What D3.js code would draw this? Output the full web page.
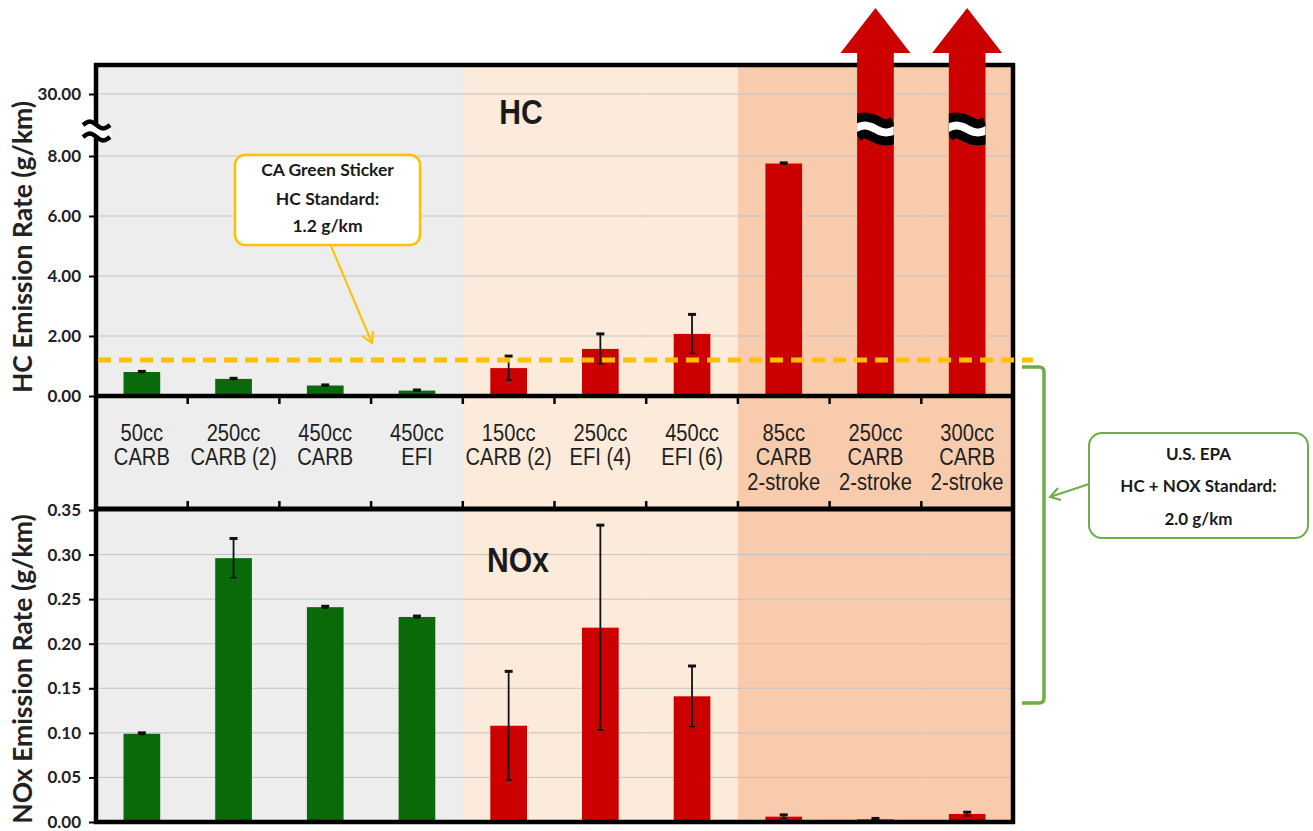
<!DOCTYPE html>
<html>
<head>
<meta charset="utf-8">
<script src="https://cdn.jsdelivr.net/npm/d3@7"></script>
<style>
body { margin: 0; background: #fff; }
svg { display: block; }
</style>
</head>
<body>
<svg id="chart" width="1313" height="831"></svg>
<script>
'use strict';

// ---- data ----
const categoryLines = [
    ["50cc", "CARB"],
    ["250cc", "CARB (2)"],
    ["450cc", "CARB"],
    ["450cc", "EFI"],
    ["150cc", "CARB (2)"],
    ["250cc", "EFI (4)"],
    ["450cc", "EFI (6)"],
    ["85cc", "CARB", "2-stroke"],
    ["250cc", "CARB", "2-stroke"],
    ["300cc", "CARB", "2-stroke"]
];
const categories = categoryLines.map(function (l) { return l.join(" "); });
const barGroup = ["pass", "pass", "pass", "pass", "fail", "fail", "fail", "fail", "fail", "fail"];
const shadeGroup = ["gray", "gray", "gray", "gray", "light", "light", "light", "dark", "dark", "dark"];

// HC (g/km); last two are off the scale
const hcValues = [0.80, 0.57, 0.35, 0.18, 0.93, 1.57, 2.07, 7.75, null, null];
const hcErrors = [0.02, 0.02, 0.02, 0.02, 0.40, 0.50, 0.65, 0.02, null, null];
const hcOffScale = [false, false, false, false, false, false, false, false, true, true];
const hcTicks = [0, 2, 4, 6, 8, 30];
const hcStandard = 1.2;

// NOx (g/km)
const noxValues = [0.099, 0.296, 0.241, 0.230, 0.108, 0.218, 0.141, 0.006, 0.003, 0.009];
const noxErrors = [0.001, 0.022, 0.001, 0.001, 0.061, 0.115, 0.034, 0.002, 0.001, 0.002];
const noxTicks = [0, 0.05, 0.10, 0.15, 0.20, 0.25, 0.30, 0.35];

const caNote = ["CA Green Sticker", "HC Standard:", "1.2 g/km"];
const epaNote = ["U.S. EPA", "HC + NOX Standard:", "2.0 g/km"];

// ---- layout ----
const LEFT = 96, RIGHT = 1013;
const HC_TOP = 65, HC_BOTTOM = 396;
const ROW_BOTTOM = 509;
const NOX_TOP = 510, NOX_BOTTOM = 822;
const NARROW = 0.84;

const COLORS = {
    gray: "#ededed", light: "#fcebdb", dark: "#f8cbad",
    pass: "#0a6a0a", fail: "#cc0000",
    grid: "#c3c3c3", gold: "#ffc000", green: "#70ad47"
};
const TICK_FONT = "Lato, 'Open Sans', sans-serif";
const NARROW_FONT = "'Liberation Sans', Arial, sans-serif";

var svg = d3.select("#chart");

var x = d3.scaleBand()
    .domain(categories)
    .range([LEFT, RIGHT])
    .paddingInner(0.6)
    .paddingOuter(0.3);
var step = x.step();

// broken axis: 0..8 linear, then jump to 30
var yHC = d3.scaleLinear()
    .domain([0, 8, 30])
    .range([HC_BOTTOM, HC_BOTTOM - 240, HC_BOTTOM - 302]);

var yNOx = d3.scaleLinear()
    .domain([0, 0.35])
    .range([NOX_BOTTOM, NOX_TOP]);

function bandLeft(c) { return x(c) - (step - x.bandwidth()) / 2; }
function mid(c) { return x(c) + x.bandwidth() / 2; }

// background shading per group
svg.append("g").selectAll("rect")
    .data(categories)
    .enter()
    .append("rect")
    .attr("x", function (d) { return bandLeft(d); })
    .attr("y", HC_TOP)
    .attr("width", step + 0.5)
    .attr("height", NOX_BOTTOM - HC_TOP)
    .attr("fill", function (d, i) { return COLORS[shadeGroup[i]]; });

// gridlines
svg.append("g").selectAll("line")
    .data(hcTicks.filter(function (t) { return t > 0; }))
    .enter()
    .append("line")
    .attr("x1", LEFT).attr("x2", RIGHT)
    .attr("y1", function (d) { return yHC(d); })
    .attr("y2", function (d) { return yHC(d); })
    .attr("stroke", COLORS.grid).attr("stroke-width", 1);

svg.append("g").selectAll("line")
    .data(noxTicks.filter(function (t) { return t > 0 && t < 0.35; }))
    .enter()
    .append("line")
    .attr("x1", LEFT).attr("x2", RIGHT)
    .attr("y1", function (d) { return yNOx(d); })
    .attr("y2", function (d) { return yNOx(d); })
    .attr("stroke", COLORS.grid).attr("stroke-width", 1);

// frame (top, left, right)
var frame = svg.append("g").attr("stroke", "#000").attr("stroke-width", 4.5).attr("fill", "none");
frame.append("line").attr("x1", LEFT - 2).attr("x2", RIGHT + 2).attr("y1", HC_TOP).attr("y2", HC_TOP);
frame.append("line").attr("x1", LEFT).attr("x2", LEFT).attr("y1", HC_TOP - 2).attr("y2", NOX_BOTTOM + 2);
frame.append("line").attr("x1", RIGHT).attr("x2", RIGHT).attr("y1", HC_TOP - 2).attr("y2", NOX_BOTTOM + 2);

// HC bars
var hcData = categories.map(function (c, i) {
    return { cat: c, value: hcValues[i], err: hcErrors[i], off: hcOffScale[i], group: barGroup[i] };
});

svg.append("g").selectAll("rect")
    .data(hcData.filter(function (d) { return !d.off; }))
    .enter()
    .append("rect")
    .attr("x", function (d) { return x(d.cat); })
    .attr("width", x.bandwidth())
    .attr("y", function (d) { return yHC(d.value); })
    .attr("height", function (d) { return yHC(0) - yHC(d.value); })
    .attr("fill", function (d) { return COLORS[d.group]; });

// off-scale bars become arrows
var arrowBase = HC_TOP - 12, arrowTip = HC_TOP - 57;
var offData = hcData.filter(function (d) { return d.off; });
var defs = svg.append("defs");
defs.selectAll("clipPath")
    .data(offData)
    .enter()
    .append("clipPath")
    .attr("id", function (d, i) { return "barclip" + i; })
    .append("rect")
    .attr("x", function (d) { return x(d.cat); })
    .attr("width", x.bandwidth())
    .attr("y", arrowBase)
    .attr("height", yHC(0) - arrowBase);

var offBars = svg.append("g").selectAll("g")
    .data(offData)
    .enter()
    .append("g");
offBars.append("rect")
    .attr("x", function (d) { return x(d.cat); })
    .attr("width", x.bandwidth())
    .attr("y", arrowBase)
    .attr("height", yHC(0) - arrowBase)
    .attr("fill", COLORS.fail);
offBars.append("path")
    .attr("d", function (d) {
        var cx = mid(d.cat);
        return "M" + (cx - 35) + "," + arrowBase + "L" + cx + "," + arrowTip + "L" + (cx + 35) + "," + arrowBase + "Z";
    })
    .attr("fill", COLORS.fail);

function wavePath(x0, x1, cy, amp) {
    var pts = d3.range(17).map(function (i) {
        return [x0 + (x1 - x0) * i / 16, cy - amp * Math.sin(2 * Math.PI * i / 16)];
    });
    return d3.line().curve(d3.curveBasis)(pts);
}

var breakY = yHC(8) - 27;
var breaks = offBars.append("g")
    .attr("clip-path", function (d, i) { return "url(#barclip" + i + ")"; });
breaks.append("path")
    .attr("d", function (d) { return wavePath(x(d.cat) - 3, x(d.cat) + x.bandwidth() + 3, breakY, 3.5); })
    .attr("stroke", "#000").attr("stroke-width", 26).attr("fill", "none");
breaks.append("path")
    .attr("d", function (d) { return wavePath(x(d.cat) - 3, x(d.cat) + x.bandwidth() + 3, breakY, 3.5); })
    .attr("stroke", "#fff").attr("stroke-width", 8).attr("fill", "none");

// NOx bars
var noxData = categories.map(function (c, i) {
    return { cat: c, value: noxValues[i], err: noxErrors[i], group: barGroup[i] };
});
svg.append("g").selectAll("rect")
    .data(noxData)
    .enter()
    .append("rect")
    .attr("x", function (d) { return x(d.cat); })
    .attr("width", x.bandwidth())
    .attr("y", function (d) { return yNOx(d.value); })
    .attr("height", function (d) { return yNOx(0) - yNOx(d.value); })
    .attr("fill", function (d) { return COLORS[d.group]; });

// error bars
function drawErrors(data, y) {
    var g = svg.append("g").selectAll("g")
        .data(data)
        .enter()
        .append("g")
        .attr("stroke", "#111");
    g.append("line")
        .attr("x1", function (d) { return mid(d.cat); })
        .attr("x2", function (d) { return mid(d.cat); })
        .attr("y1", function (d) { return y(d.value - d.err); })
        .attr("y2", function (d) { return y(d.value + d.err); })
        .attr("stroke-width", 1.8);
    g.append("line")
        .attr("x1", function (d) { return mid(d.cat) - 4; })
        .attr("x2", function (d) { return mid(d.cat) + 4; })
        .attr("y1", function (d) { return y(d.value + d.err); })
        .attr("y2", function (d) { return y(d.value + d.err); })
        .attr("stroke-width", 3);
    g.append("line")
        .attr("x1", function (d) { return mid(d.cat) - 3; })
        .attr("x2", function (d) { return mid(d.cat) + 3; })
        .attr("y1", function (d) { return y(d.value - d.err); })
        .attr("y2", function (d) { return y(d.value - d.err); })
        .attr("stroke-width", 1.5);
}
drawErrors(hcData.filter(function (d) { return !d.off; }), yHC);
drawErrors(noxData, yNOx);

// horizontal axis lines
var hz = svg.append("g").attr("stroke", "#000").attr("stroke-width", 4.5);
hz.append("line").attr("x1", LEFT - 2).attr("x2", RIGHT + 2).attr("y1", HC_BOTTOM).attr("y2", HC_BOTTOM);
hz.append("line").attr("x1", LEFT - 2).attr("x2", RIGHT + 2).attr("y1", ROW_BOTTOM).attr("y2", ROW_BOTTOM).attr("stroke-width", 5);
hz.append("line").attr("x1", LEFT - 2).attr("x2", RIGHT + 2).attr("y1", NOX_BOTTOM).attr("y2", NOX_BOTTOM);

// category boundary ticks
var bounds = categories.slice(1).map(function (c) { return bandLeft(c); });
svg.append("g").selectAll("line")
    .data(bounds)
    .enter()
    .append("line")
    .attr("x1", function (d) { return d; }).attr("x2", function (d) { return d; })
    .attr("y1", HC_BOTTOM).attr("y2", HC_BOTTOM + 8)
    .attr("stroke", "#000").attr("stroke-width", 2.5);
svg.append("g").selectAll("line")
    .data(bounds)
    .enter()
    .append("line")
    .attr("x1", function (d) { return d; }).attr("x2", function (d) { return d; })
    .attr("y1", ROW_BOTTOM).attr("y2", ROW_BOTTOM - 8)
    .attr("stroke", "#000").attr("stroke-width", 2.5);

// category labels (condensed horizontally)
var labels = svg.append("g").selectAll("text")
    .data(categories)
    .enter()
    .append("text")
    .attr("transform", function (d) { return "translate(" + mid(d) + ",441) scale(" + NARROW + ",1)"; })
    .attr("text-anchor", "middle")
    .attr("font-family", NARROW_FONT)
    .attr("font-size", 24)
    .attr("fill", "#1e1e1e");
labels.selectAll("tspan")
    .data(function (d, i) { return categoryLines[i]; })
    .enter()
    .append("tspan")
    .attr("x", 0)
    .attr("dy", function (d, i) { return i === 0 ? 0 : 24.5; })
    .text(function (d) { return d; });

// y axes
function styleAxis(g) {
    g.select(".domain").remove();
    g.selectAll(".tick line").attr("stroke", "#000").attr("stroke-width", 2);
    g.selectAll(".tick text")
        .attr("font-family", TICK_FONT)
        .attr("font-weight", "bold")
        .attr("font-size", 17)
        .attr("fill", "#222");
}
svg.append("g")
    .attr("transform", "translate(" + LEFT + ",0)")
    .call(d3.axisLeft(yHC).tickValues(hcTicks).tickFormat(d3.format(".2f")).tickSize(7).tickPadding(8))
    .call(styleAxis);
svg.append("g")
    .attr("transform", "translate(" + LEFT + ",0)")
    .call(d3.axisLeft(yNOx).tickValues(noxTicks).tickFormat(d3.format(".2f")).tickSize(7).tickPadding(8))
    .call(styleAxis);

// axis break mark
var axisBreakY = yHC(8) - 25;
svg.append("path")
    .attr("d", wavePath(LEFT - 13, LEFT + 14, axisBreakY, 3.5))
    .attr("stroke", "#fff").attr("stroke-width", 9).attr("fill", "none");
[-6, 6].forEach(function (off) {
    svg.append("path")
        .attr("d", wavePath(LEFT - 13, LEFT + 14, axisBreakY + off, 3.5))
        .attr("stroke", "#000").attr("stroke-width", 4.5).attr("fill", "none");
});

// axis titles
svg.append("text")
    .attr("transform", "translate(32,247) rotate(-90)")
    .attr("text-anchor", "middle")
    .attr("font-family", TICK_FONT).attr("font-weight", "bold").attr("font-size", 26.5)
    .attr("fill", "#222")
    .text("HC Emission Rate (g/km)");
svg.append("text")
    .attr("transform", "translate(32," + ((NOX_TOP + NOX_BOTTOM) / 2 + 3) + ") rotate(-90)")
    .attr("text-anchor", "middle")
    .attr("font-family", TICK_FONT).attr("font-weight", "bold").attr("font-size", 26.5)
    .attr("fill", "#222")
    .text("NOx Emission Rate (g/km)");

// panel labels
svg.append("text")
    .attr("transform", "translate(521,124) scale(0.86,1)")
    .attr("text-anchor", "middle")
    .attr("font-family", NARROW_FONT).attr("font-weight", "bold").attr("font-size", 35)
    .attr("fill", "#1a1a1a")
    .text("HC");
svg.append("text")
    .attr("transform", "translate(518,572) scale(0.86,1)")
    .attr("text-anchor", "middle")
    .attr("font-family", NARROW_FONT).attr("font-weight", "bold").attr("font-size", 35)
    .attr("fill", "#1a1a1a")
    .text("NOx");

// CA standard dashed line
svg.append("line")
    .attr("x1", LEFT + 2).attr("x2", RIGHT + 20)
    .attr("y1", yHC(hcStandard)).attr("y2", yHC(hcStandard))
    .attr("stroke", COLORS.gold).attr("stroke-width", 5)
    .attr("stroke-dasharray", "13,8");

// CA callout
var ca = svg.append("g");
ca.append("line")
    .attr("x1", 331).attr("y1", 246).attr("x2", 372).attr("y2", 343)
    .attr("stroke", COLORS.gold).attr("stroke-width", 2);
ca.append("path")
    .attr("d", "M362,336 L372,343 L373,331")
    .attr("stroke", COLORS.gold).attr("stroke-width", 2).attr("fill", "none");
ca.append("rect")
    .attr("x", 235).attr("y", 155).attr("width", 185).attr("height", 90)
    .attr("rx", 10)
    .attr("fill", "#fff").attr("stroke", COLORS.gold).attr("stroke-width", 2.5);
ca.append("text")
    .attr("text-anchor", "middle")
    .attr("font-family", TICK_FONT).attr("font-weight", "bold").attr("font-size", 17.5)
    .attr("fill", "#1a1a1a")
    .selectAll("tspan")
    .data(caNote)
    .enter()
    .append("tspan")
    .attr("x", 327.5)
    .attr("y", function (d, i) { return [176, 205, 232][i]; })
    .text(function (d) { return d; });

// EPA bracket + callout
var epa = svg.append("g");
epa.append("path")
    .attr("d", "M1022,367 H1039 Q1044,367 1044,372 V698 Q1044,703 1039,703 H1022")
    .attr("stroke", COLORS.green).attr("stroke-width", 3.5).attr("fill", "none");
epa.append("line")
    .attr("x1", 1089).attr("y1", 484).attr("x2", 1050).attr("y2", 497)
    .attr("stroke", COLORS.green).attr("stroke-width", 2);
epa.append("path")
    .attr("d", "M1058,488 L1050,497 L1061,500")
    .attr("stroke", COLORS.green).attr("stroke-width", 2).attr("fill", "none");
epa.append("rect")
    .attr("x", 1089).attr("y", 433).attr("width", 219).attr("height", 105)
    .attr("rx", 13)
    .attr("fill", "#fff").attr("stroke", COLORS.green).attr("stroke-width", 2);
epa.append("text")
    .attr("text-anchor", "middle")
    .attr("font-family", TICK_FONT).attr("font-weight", "bold").attr("font-size", 17)
    .attr("fill", "#1a1a1a")
    .selectAll("tspan")
    .data(epaNote)
    .enter()
    .append("tspan")
    .attr("x", 1198.5)
    .attr("y", function (d, i) { return [460, 492, 525][i]; })
    .text(function (d) { return d; });
</script>
</body>
</html>
